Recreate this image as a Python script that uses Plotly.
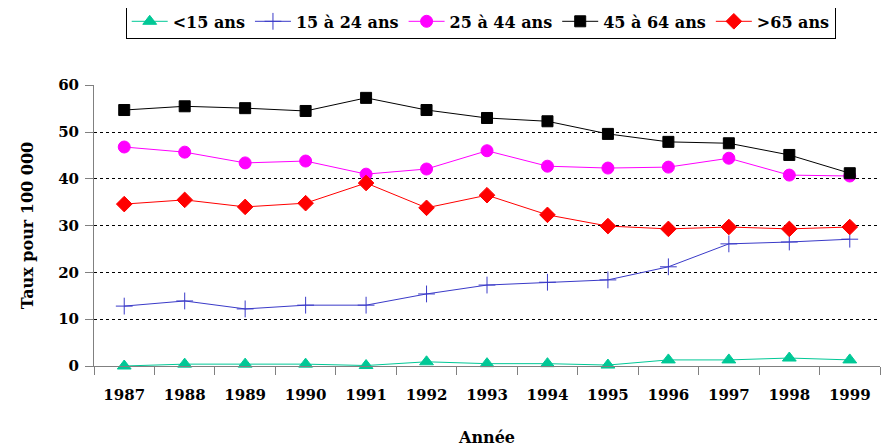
import plotly.graph_objects as go

years = ["1987", "1988", "1989", "1990", "1991", "1992", "1993",
         "1994", "1995", "1996", "1997", "1998", "1999"]

moins15 = [0.0, 0.4, 0.4, 0.4, 0.1, 0.9, 0.5, 0.5, 0.2, 1.3, 1.3, 1.7, 1.3]
a15_24 = [12.8, 13.9, 12.2, 13.0, 13.0, 15.4, 17.3, 17.9, 18.4, 21.2, 26.1, 26.5, 27.1]
a25_44 = [46.8, 45.7, 43.4, 43.8, 41.0, 42.1, 46.0, 42.7, 42.3, 42.5, 44.4, 40.8, 40.6]
a45_64 = [54.7, 55.5, 55.1, 54.5, 57.3, 54.7, 53.0, 52.3, 49.6, 47.9, 47.6, 45.1, 41.2]
plus65 = [34.6, 35.5, 34.0, 34.8, 39.1, 33.8, 36.5, 32.3, 29.9, 29.3, 29.7, 29.3, 29.7]

font_family = "DejaVu Serif"

series = [
    ("<15 ans", moins15, "#00c896", "triangle-up", 12),
    ("15 à 24 ans", a15_24, "#3a3ac8", "cross-thin-open", 12),
    ("25 à 44 ans", a25_44, "#ff00ff", "circle", 12),
    ("45 à 64 ans", a45_64, "#000000", "square", 11),
    (">65 ans", plus65, "#ff0000", "diamond", 12),
]

fig = go.Figure()
for name, vals, col, sym, sz in series:
    fig.add_trace(go.Scatter(
        x=years, y=vals, name=name, mode="lines+markers",
        line=dict(color=col, width=1),
        marker=dict(symbol=sym, size=sz, color=col,
                    line=dict(color=col, width=1)),
        cliponaxis=False,
    ))

def bold(size):
    return dict(family=font_family, size=size, color="black", weight="bold")

# the page has an 8px body margin, so margins are shifted to compensate
fig.update_layout(
    width=889, height=447,
    margin=dict(l=86, r=17, t=77, b=89, autoexpand=False),
    paper_bgcolor="white", plot_bgcolor="white",
    font=bold(15),
    showlegend=True,
    legend=dict(
        orientation="h", x=0.492, xanchor="center",
        yref="container", y=0.970, yanchor="middle",
        bordercolor="black", borderwidth=1,
        font=bold(16), itemwidth=36, tracegroupgap=0,
    ),
    xaxis=dict(
        type="category", tickson="boundaries", automargin=False,
        showgrid=False, showline=True, linecolor="#808080", linewidth=1,
        ticks="outside", ticklen=8, tickcolor="#808080",
        ticklabelstandoff=15,
        tickfont=bold(15),
        title=dict(text="Année", standoff=28, font=bold(16)),
        range=[-0.5, 12.5],
    ),
    yaxis=dict(
        range=[0, 60.05], dtick=10, automargin=False,
        showgrid=True, gridcolor="black", griddash="3px,3px", gridwidth=1,
        showline=True, linecolor="#808080", linewidth=1,
        ticks="outside", ticklen=8, tickcolor="#808080",
        ticklabelstandoff=3,
        zeroline=False,
        tickfont=bold(15),
        title=dict(text="Taux pour 100 000", standoff=20, font=bold(16)),
    ),
)

fig.write_html("out.html")
